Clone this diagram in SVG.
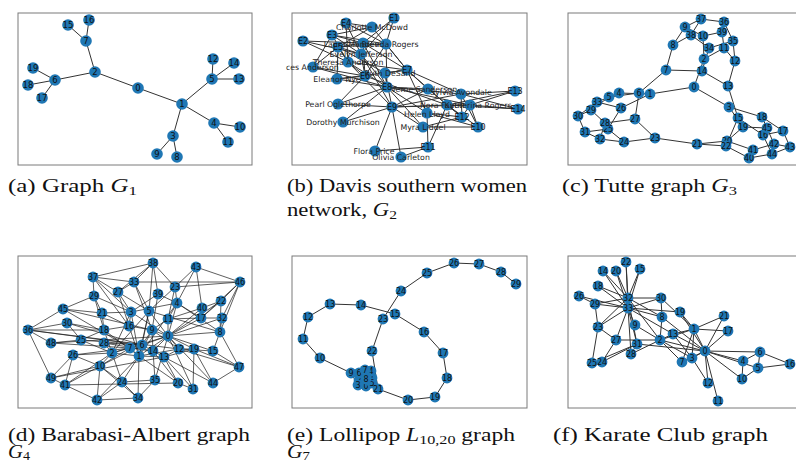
<svg xmlns="http://www.w3.org/2000/svg" width="796" height="464" viewBox="0 0 796 464">
<style>
.fr{fill:none;stroke:#7a7a7a;stroke-width:1}
.e{fill:none;stroke:#333;stroke-width:1}
.ed{fill:none;stroke:#1a1a1a;stroke-width:0.7}
.n circle{fill:#1f77b4}
.n text{font-family:"DejaVu Sans",sans-serif;font-size:8px;fill:#111;text-anchor:middle;dominant-baseline:central}
#graph-a .n text{font-size:8.5px}
.w text{font-size:7.8px;fill:#222}
.cap{font-family:"Liberation Serif",serif;font-size:19px;fill:#111}
.sub{font-size:13px}
.it{font-style:italic}
</style>
<rect width="796" height="464" fill="#fff"/>
<g id="frames">
<rect class="fr" x="18" y="13" width="234" height="152"/>
<rect class="fr" x="292" y="13" width="235" height="152"/>
<rect class="fr" x="568" y="13" width="240" height="152"/>
<rect class="fr" x="18" y="256" width="234" height="152"/>
<rect class="fr" x="292" y="256" width="235" height="152"/>
<rect class="fr" x="568" y="256" width="240" height="152"/>
</g>
<g id="connectors">
<path id="edges-a" class="e" d="M138 88L182 104M138 88L95 72M95 72L86 41M86 41L68 25M86 41L89 20M95 72L55 80M55 80L33 68M55 80L28 85M55 80L42 98M182 104L212 79M212 79L213 59M212 79L234 63M212 79L239 79M182 104L214 123M214 123L240 127M214 123L228 142M182 104L173 136M173 136L157 154M173 136L177 157"/>
<path id="edges-b" class="e" d="M361 54L394 18M361 54L303 41M361 54L332 35M361 54L346 23M361 54L338 47M361 54L365 76M361 54L387 87M361 54L392 107M363 43L394 18M363 43L303 41M363 43L332 35M363 43L338 47M363 43L365 76M363 43L407 70M363 43L387 87M348 62L303 41M348 62L332 35M348 62L346 23M348 62L338 47M348 62L365 76M348 62L407 70M348 62L387 87M348 62L392 107M386 44L394 18M386 44L332 35M386 44L346 23M386 44L338 47M386 44L365 76M386 44L407 70M386 44L387 87M372 27L332 35M372 27L346 23M372 27L338 47M372 27L407 70M313 67L332 35M313 67L338 47M313 67L365 76M313 67L387 87M337 79L338 47M337 79L365 76M337 79L407 70M337 79L387 87M338 104L365 76M338 104L387 87M338 104L392 107M385 73L338 47M385 73L407 70M385 73L387 87M385 73L392 107M428 89L407 70M428 89L387 87M428 89L392 107M428 89L462 117M423 127L387 87M423 127L392 107M423 127L478 127M423 127L462 117M470 105L387 87M470 105L392 107M470 105L478 127M470 105L462 117M470 105L515 91M470 105L518 109M461 94L407 70M461 94L387 87M461 94L392 107M461 94L478 127M461 94L462 117M461 94L515 91M461 94L518 109M447 105L365 76M447 105L407 70M447 105L392 107M447 105L478 127M447 105L428 147M447 105L462 117M447 105L515 91M447 105L518 109M427 113L407 70M427 113L387 87M427 113L478 127M427 113L428 147M427 113L462 117M343 122L387 87M343 122L392 107M401 157L392 107M401 157L428 147M375 151L392 107M375 151L428 147"/>
<path id="edges-c" class="e" d="M694 87L650 94M694 87L704 59M694 87L729 107M650 94L619 93M650 94L621 108M704 59L703 36M704 59L724 48M729 107L762 117M729 107L743 127M619 93L609 97M619 93L597 102M609 97L639 93M609 97L591 110M639 93L666 70M639 93L635 119M666 70L673 45M666 70L702 71M673 45L685 27M673 45L691 35M685 27L703 36M685 27L701 19M703 36L722 32M724 48L735 61M724 48L722 32M735 61L728 86M735 61L733 41M728 86L702 71M728 86L738 118M702 71L709 48M738 118L763 135M738 118L726 146M763 135L783 131M763 135L772 154M783 131L762 117M783 131L790 147M762 117L767 128M743 127L727 141M743 127L767 128M727 141L697 144M727 141L753 150M697 144L726 146M697 144L655 138M726 146L749 158M655 138L624 142M655 138L635 119M624 142L608 129M624 142L600 139M608 129L621 108M608 129L585 132M621 108L597 102M635 119L605 123M605 123L591 110M605 123L600 139M591 110L578 116M578 116L585 132M578 116L597 102M585 132L600 139M709 48L733 41M709 48L691 35M733 41L724 22M724 22L701 19M724 22L722 32M701 19L691 35M749 158L753 150M749 158L772 154M753 150L774 144M774 144L790 147M774 144L767 128M790 147L772 154"/>
<path id="edges-d" class="ed" d="M168 336L139 356M168 336L112 353M139 356L112 353M131 312L168 336M131 312L139 356M131 312L112 353M177 303L168 336M177 303L139 356M177 303L131 312M149 311L168 336M149 311L139 356M149 311L112 353M142 345L168 336M142 345L139 356M142 345L149 311M130 348L139 356M130 348L112 353M130 348L142 345M220 332L168 336M220 332L177 303M220 332L149 311M152 330L168 336M152 330L139 356M152 330L142 345M100 366L112 353M100 366L142 345M100 366L130 348M168 319L168 336M168 319L177 303M168 319L152 330M179 349L168 336M179 349L139 356M179 349L152 330M164 357L139 356M164 357L142 345M164 357L179 349M153 351L168 336M153 351L130 348M153 351L152 330M213 351L168 336M213 351L220 332M213 351L179 349M129 326L139 356M129 326L131 312M129 326L152 330M201 318L168 336M201 318L177 303M201 318L168 319M104 330L139 356M104 330L112 353M104 330L129 326M194 349L168 336M194 349L179 349M194 349L164 357M178 383L139 356M178 383L164 357M178 383L153 351M102 313L131 312M102 313L129 326M102 313L104 330M221 301L168 336M221 301L220 332M221 301L201 318M175 287L177 303M175 287L149 311M175 287L168 319M122 382L139 356M122 382L112 353M122 382L100 366M81 340L112 353M81 340L142 345M81 340L104 330M73 355L112 353M73 355L130 348M73 355L100 366M118 292L131 312M118 292L149 311M118 292L129 326M104 343L112 353M104 343L142 345M104 343L153 351M94 296L131 312M94 296L104 330M94 296L102 313M67 323L142 345M67 323L104 330M67 323L81 340M193 389L168 336M193 389L164 357M193 389L194 349M222 318L168 336M222 318L220 332M222 318L201 318M134 282L149 311M134 282L152 330M134 282L118 292M138 398L139 356M138 398L100 366M138 398L122 382M155 380L168 336M155 380L153 351M155 380L122 382M28 330L142 345M28 330L104 330M28 330L67 323M93 277L131 312M93 277L129 326M93 277L94 296M153 263L149 311M153 263L175 287M153 263L134 282M158 294L131 312M158 294L177 303M158 294L152 330M202 308L168 336M202 308L168 319M202 308L201 318M65 385L112 353M65 385L100 366M65 385L73 355M97 400L100 366M97 400L122 382M97 400L138 398M196 267L177 303M196 267L175 287M196 267L202 308M213 383L168 336M213 383L164 357M213 383L194 349M63 309L130 348M63 309L102 313M63 309L94 296M240 282L221 301M240 282L175 287M240 282L222 318M239 367L220 332M239 367L213 351M239 367L194 349M51 343L130 348M51 343L81 340M51 343L28 330M51 378L100 366M51 378L73 355M51 378L65 385M28 330L63 309M28 330L51 378M153 263L158 294M196 267L240 282M134 282L93 277M193 389L178 383M239 367L213 383M97 400L65 385M28 330L179 349M63 309L152 330M51 343L168 336M51 378L164 357M97 400L139 356M65 385L178 383M138 398L155 380M240 282L220 332M239 367L179 349M221 301L202 308M240 282L201 318M153 263L118 292M93 277L118 292M134 282L240 282M93 277L153 263"/>
<path id="edges-e" class="e" d="M366 386L372 378M366 386L359 380M366 386L358 385M366 386L371 371M366 386L372 383M366 386L359 373M366 386L365 370M366 386L366 379M366 386L351 373M372 378L359 380M372 378L358 385M372 378L371 371M372 378L372 383M372 378L359 373M372 378L365 370M372 378L366 379M372 378L351 373M359 380L358 385M359 380L371 371M359 380L372 383M359 380L359 373M359 380L365 370M359 380L366 379M359 380L351 373M358 385L371 371M358 385L372 383M358 385L359 373M358 385L365 370M358 385L366 379M358 385L351 373M371 371L372 383M371 371L359 373M371 371L365 370M371 371L366 379M371 371L351 373M372 383L359 373M372 383L365 370M372 383L366 379M372 383L351 373M359 373L365 370M359 373L366 379M359 373L351 373M365 370L366 379M365 370L351 373M366 379L351 373M351 373L320 358L303 339L308 317L330 304L361 305L395 314L424 332L443 353L447 378L435 397L408 400L378 389L372 351L383 319L401 291L427 273L454 263L479 264L501 272L516 284"/>
<path id="edges-f" class="e" d="M705 351L694 329M705 351L660 340M705 351L692 358M705 351L743 361M705 351L758 368M705 351L760 352M705 351L682 362M705 351L662 317M705 351L742 379M705 351L718 401M705 351L708 383M705 351L673 334M705 351L728 331M705 351L680 312M705 351L724 316M705 351L637 344M694 329L660 340M694 329L692 358M694 329L682 362M694 329L673 334M694 329L728 331M694 329L680 312M694 329L724 316M694 329L661 298M660 340L692 358M660 340L682 362M660 340L662 317M660 340L635 325M660 340L673 334M660 340L616 340M660 340L631 354M660 340L628 298M692 358L682 362M692 358L708 383M692 358L673 334M743 361L760 352M743 361L742 379M758 368L760 352M758 368L742 379M758 368L790 364M760 352L790 364M662 317L661 298M662 317L628 298M662 317L628 308M635 325L628 308M673 334L628 308M603 271L628 298M603 271L628 308M640 269L628 298M640 269L628 308M598 286L628 298M598 286L628 308M680 312L628 308M616 271L628 298M616 271L628 308M626 262L628 298M626 262L628 308M598 327L592 363M598 327L616 340M598 327L595 304M598 327L628 298M598 327L628 308M602 362L592 363M602 362L616 340M602 362L637 344M592 363L637 344M579 296L595 304M579 296L628 308M616 340L628 308M631 354L637 344M631 354L628 308M595 304L628 298M595 304L628 308M661 298L628 298M661 298L628 308M637 344L628 298M637 344L628 308M628 298L628 308"/>
</g>
<g id="graph-a">
<g id="a0" class="n"><circle cx="138" cy="88" r="5.8"/><text x="138" y="88">0</text></g>
<g id="a1" class="n"><circle cx="182" cy="104" r="5.8"/><text x="182" y="104">1</text></g>
<g id="a2" class="n"><circle cx="95" cy="72" r="5.8"/><text x="95" y="72">2</text></g>
<g id="a3" class="n"><circle cx="173" cy="136" r="5.8"/><text x="173" y="136">3</text></g>
<g id="a4" class="n"><circle cx="214" cy="123" r="5.8"/><text x="214" y="123">4</text></g>
<g id="a5" class="n"><circle cx="212" cy="79" r="5.8"/><text x="212" y="79">5</text></g>
<g id="a6" class="n"><circle cx="55" cy="80" r="5.8"/><text x="55" y="80">6</text></g>
<g id="a7" class="n"><circle cx="86" cy="41" r="5.8"/><text x="86" y="41">7</text></g>
<g id="a8" class="n"><circle cx="177" cy="157" r="5.8"/><text x="177" y="157">8</text></g>
<g id="a9" class="n"><circle cx="157" cy="154" r="5.8"/><text x="157" y="154">9</text></g>
<g id="a10" class="n"><circle cx="240" cy="127" r="5.8"/><text x="240" y="127">10</text></g>
<g id="a11" class="n"><circle cx="228" cy="142" r="5.8"/><text x="228" y="142">11</text></g>
<g id="a12" class="n"><circle cx="213" cy="59" r="5.8"/><text x="213" y="59">12</text></g>
<g id="a13" class="n"><circle cx="239" cy="79" r="5.8"/><text x="239" y="79">13</text></g>
<g id="a14" class="n"><circle cx="234" cy="63" r="5.8"/><text x="234" y="63">14</text></g>
<g id="a15" class="n"><circle cx="68" cy="25" r="5.8"/><text x="68" y="25">15</text></g>
<g id="a16" class="n"><circle cx="89" cy="20" r="5.8"/><text x="89" y="20">16</text></g>
<g id="a17" class="n"><circle cx="42" cy="98" r="5.8"/><text x="42" y="98">17</text></g>
<g id="a18" class="n"><circle cx="28" cy="85" r="5.8"/><text x="28" y="85">18</text></g>
<g id="a19" class="n"><circle cx="33" cy="68" r="5.8"/><text x="33" y="68">19</text></g>
</g>
<g id="graph-b">
<g id="bE1" class="n"><circle cx="394" cy="18" r="5.6"/><text x="394" y="18">E1</text></g>
<g id="bE2" class="n"><circle cx="303" cy="41" r="5.6"/><text x="303" y="41">E2</text></g>
<g id="bE3" class="n"><circle cx="332" cy="35" r="5.6"/><text x="332" y="35">E3</text></g>
<g id="bE4" class="n"><circle cx="346" cy="23" r="5.6"/><text x="346" y="23">E4</text></g>
<g id="bE5" class="n"><circle cx="338" cy="47" r="5.6"/><text x="338" y="47">E5</text></g>
<g id="bE6" class="n"><circle cx="365" cy="76" r="5.6"/><text x="365" y="76">E6</text></g>
<g id="bE7" class="n"><circle cx="407" cy="70" r="5.6"/><text x="407" y="70">E7</text></g>
<g id="bE8" class="n"><circle cx="387" cy="87" r="5.6"/><text x="387" y="87">E8</text></g>
<g id="bE9" class="n"><circle cx="392" cy="107" r="5.6"/><text x="392" y="107">E9</text></g>
<g id="bE10" class="n"><circle cx="478" cy="127" r="5.6"/><text x="478" y="127">E10</text></g>
<g id="bE11" class="n"><circle cx="428" cy="147" r="5.6"/><text x="428" y="147">E11</text></g>
<g id="bE12" class="n"><circle cx="462" cy="117" r="5.6"/><text x="462" y="117">E12</text></g>
<g id="bE13" class="n"><circle cx="515" cy="91" r="5.6"/><text x="515" y="91">E13</text></g>
<g id="bE14" class="n"><circle cx="518" cy="109" r="5.6"/><text x="518" y="109">E14</text></g>
<g id="b-charlotte" class="n w"><circle cx="372" cy="27" r="5.6"/><text x="372" y="27">Charlotte McDowd</text></g>
<g id="b-frances" class="n w"><circle cx="313" cy="67" r="5.6"/><text x="286" y="67" style="text-anchor:start">ces Anderson</text></g>
<g id="b-theresa" class="n w"><circle cx="348" cy="62" r="5.6"/><text x="348" y="62">Theresa Anderson</text></g>
<g id="b-evelyn" class="n w"><circle cx="361" cy="54" r="5.6"/><text x="361" y="54">Evelyn Jefferson</text></g>
<g id="b-laura" class="n w"><circle cx="363" cy="43" r="5.6"/><text x="357" y="44">Laura Mandeville</text></g>
<g id="b-brenda" class="n w"><circle cx="386" cy="44" r="5.6"/><text x="390" y="44">Brenda Rogers</text></g>
<g id="b-eleanor" class="n w"><circle cx="337" cy="79" r="5.6"/><text x="337" y="79">Eleanor Nye</text></g>
<g id="b-ruth" class="n w"><circle cx="385" cy="73" r="5.6"/><text x="390" y="73">Ruth DeSand</text></g>
<g id="b-pearl" class="n w"><circle cx="338" cy="104" r="5.6"/><text x="338" y="104">Pearl Oglethorpe</text></g>
<g id="b-dorothy" class="n w"><circle cx="343" cy="122" r="5.6"/><text x="343" y="122">Dorothy Murchison</text></g>
<g id="b-verne" class="n w"><circle cx="428" cy="89" r="5.6"/><text x="424" y="89">Verne Sanderson</text></g>
<g id="b-sylvia" class="n w"><circle cx="461" cy="94" r="5.6"/><text x="461" y="92">Sylvia Avondale</text></g>
<g id="b-nora" class="n w"><circle cx="447" cy="105" r="5.6"/><text x="445" y="105">Nora Fayette</text></g>
<g id="b-katherina" class="n w"><circle cx="470" cy="105" r="5.6"/><text x="478" y="105">Katherina Rogers</text></g>
<g id="b-helen" class="n w"><circle cx="427" cy="113" r="5.6"/><text x="427" y="114">Helen Lloyd</text></g>
<g id="b-myra" class="n w"><circle cx="423" cy="127" r="5.6"/><text x="423" y="127">Myra Liddel</text></g>
<g id="b-flora" class="n w"><circle cx="375" cy="151" r="5.6"/><text x="374" y="151">Flora Price</text></g>
<g id="b-olivia" class="n w"><circle cx="401" cy="157" r="5.6"/><text x="401" y="157">Olivia Carleton</text></g>
</g>
<g id="graph-c">
<g id="c0" class="n"><circle cx="694" cy="87" r="5.4"/><text x="694" y="87">0</text></g>
<g id="c1" class="n"><circle cx="650" cy="94" r="5.4"/><text x="650" y="94">1</text></g>
<g id="c2" class="n"><circle cx="704" cy="59" r="5.4"/><text x="704" y="59">2</text></g>
<g id="c3" class="n"><circle cx="729" cy="107" r="5.4"/><text x="729" y="107">3</text></g>
<g id="c4" class="n"><circle cx="619" cy="93" r="5.4"/><text x="619" y="93">4</text></g>
<g id="c5" class="n"><circle cx="609" cy="97" r="5.4"/><text x="609" y="97">5</text></g>
<g id="c6" class="n"><circle cx="639" cy="93" r="5.4"/><text x="639" y="93">6</text></g>
<g id="c7" class="n"><circle cx="666" cy="70" r="5.4"/><text x="666" y="70">7</text></g>
<g id="c8" class="n"><circle cx="673" cy="45" r="5.4"/><text x="673" y="45">8</text></g>
<g id="c9" class="n"><circle cx="685" cy="27" r="5.4"/><text x="685" y="27">9</text></g>
<g id="c10" class="n"><circle cx="703" cy="36" r="5.4"/><text x="703" y="36">10</text></g>
<g id="c11" class="n"><circle cx="724" cy="48" r="5.4"/><text x="724" y="48">11</text></g>
<g id="c12" class="n"><circle cx="735" cy="61" r="5.4"/><text x="735" y="61">12</text></g>
<g id="c13" class="n"><circle cx="728" cy="86" r="5.4"/><text x="728" y="86">13</text></g>
<g id="c14" class="n"><circle cx="702" cy="71" r="5.4"/><text x="702" y="71">14</text></g>
<g id="c15" class="n"><circle cx="738" cy="118" r="5.4"/><text x="738" y="118">15</text></g>
<g id="c16" class="n"><circle cx="763" cy="135" r="5.4"/><text x="763" y="135">16</text></g>
<g id="c17" class="n"><circle cx="783" cy="131" r="5.4"/><text x="783" y="131">17</text></g>
<g id="c18" class="n"><circle cx="762" cy="117" r="5.4"/><text x="762" y="117">18</text></g>
<g id="c19" class="n"><circle cx="743" cy="127" r="5.4"/><text x="743" y="127">19</text></g>
<g id="c20" class="n"><circle cx="727" cy="141" r="5.4"/><text x="727" y="141">20</text></g>
<g id="c21" class="n"><circle cx="697" cy="144" r="5.4"/><text x="697" y="144">21</text></g>
<g id="c22" class="n"><circle cx="726" cy="146" r="5.4"/><text x="726" y="146">22</text></g>
<g id="c23" class="n"><circle cx="655" cy="138" r="5.4"/><text x="655" y="138">23</text></g>
<g id="c24" class="n"><circle cx="624" cy="142" r="5.4"/><text x="624" y="142">24</text></g>
<g id="c25" class="n"><circle cx="608" cy="129" r="5.4"/><text x="608" y="129">25</text></g>
<g id="c26" class="n"><circle cx="621" cy="108" r="5.4"/><text x="621" y="108">26</text></g>
<g id="c27" class="n"><circle cx="635" cy="119" r="5.4"/><text x="635" y="119">27</text></g>
<g id="c28" class="n"><circle cx="605" cy="123" r="5.4"/><text x="605" y="123">28</text></g>
<g id="c29" class="n"><circle cx="591" cy="110" r="5.4"/><text x="591" y="110">29</text></g>
<g id="c30" class="n"><circle cx="578" cy="116" r="5.4"/><text x="578" y="116">30</text></g>
<g id="c31" class="n"><circle cx="585" cy="132" r="5.4"/><text x="585" y="132">31</text></g>
<g id="c32" class="n"><circle cx="600" cy="139" r="5.4"/><text x="600" y="139">32</text></g>
<g id="c33" class="n"><circle cx="597" cy="102" r="5.4"/><text x="597" y="102">33</text></g>
<g id="c34" class="n"><circle cx="709" cy="48" r="5.4"/><text x="709" y="48">34</text></g>
<g id="c35" class="n"><circle cx="733" cy="41" r="5.4"/><text x="733" y="41">35</text></g>
<g id="c36" class="n"><circle cx="724" cy="22" r="5.4"/><text x="724" y="22">36</text></g>
<g id="c37" class="n"><circle cx="701" cy="19" r="5.4"/><text x="701" y="19">37</text></g>
<g id="c38" class="n"><circle cx="691" cy="35" r="5.4"/><text x="691" y="35">38</text></g>
<g id="c39" class="n"><circle cx="722" cy="32" r="5.4"/><text x="722" y="32">39</text></g>
<g id="c40" class="n"><circle cx="749" cy="158" r="5.4"/><text x="749" y="158">40</text></g>
<g id="c41" class="n"><circle cx="753" cy="150" r="5.4"/><text x="753" y="150">41</text></g>
<g id="c42" class="n"><circle cx="774" cy="144" r="5.4"/><text x="774" y="144">42</text></g>
<g id="c43" class="n"><circle cx="790" cy="147" r="5.4"/><text x="790" y="147">43</text></g>
<g id="c44" class="n"><circle cx="772" cy="154" r="5.4"/><text x="772" y="154">44</text></g>
<g id="c45" class="n"><circle cx="767" cy="128" r="5.4"/><text x="767" y="128">45</text></g>
</g>
<g id="graph-d">
<g id="d0" class="n"><circle cx="168" cy="336" r="5.4"/><text x="168" y="336">0</text></g>
<g id="d1" class="n"><circle cx="139" cy="356" r="5.4"/><text x="139" y="356">1</text></g>
<g id="d2" class="n"><circle cx="112" cy="353" r="5.4"/><text x="112" y="353">2</text></g>
<g id="d3" class="n"><circle cx="131" cy="312" r="5.4"/><text x="131" y="312">3</text></g>
<g id="d4" class="n"><circle cx="177" cy="303" r="5.4"/><text x="177" y="303">4</text></g>
<g id="d5" class="n"><circle cx="149" cy="311" r="5.4"/><text x="149" y="311">5</text></g>
<g id="d6" class="n"><circle cx="142" cy="345" r="5.4"/><text x="142" y="345">6</text></g>
<g id="d7" class="n"><circle cx="130" cy="348" r="5.4"/><text x="130" y="348">7</text></g>
<g id="d8" class="n"><circle cx="220" cy="332" r="5.4"/><text x="220" y="332">8</text></g>
<g id="d9" class="n"><circle cx="152" cy="330" r="5.4"/><text x="152" y="330">9</text></g>
<g id="d10" class="n"><circle cx="100" cy="366" r="5.4"/><text x="100" y="366">10</text></g>
<g id="d11" class="n"><circle cx="168" cy="319" r="5.4"/><text x="168" y="319">11</text></g>
<g id="d12" class="n"><circle cx="179" cy="349" r="5.4"/><text x="179" y="349">12</text></g>
<g id="d13" class="n"><circle cx="164" cy="357" r="5.4"/><text x="164" y="357">13</text></g>
<g id="d14" class="n"><circle cx="153" cy="351" r="5.4"/><text x="153" y="351">14</text></g>
<g id="d15" class="n"><circle cx="213" cy="351" r="5.4"/><text x="213" y="351">15</text></g>
<g id="d16" class="n"><circle cx="129" cy="326" r="5.4"/><text x="129" y="326">16</text></g>
<g id="d17" class="n"><circle cx="201" cy="318" r="5.4"/><text x="201" y="318">17</text></g>
<g id="d18" class="n"><circle cx="104" cy="330" r="5.4"/><text x="104" y="330">18</text></g>
<g id="d19" class="n"><circle cx="194" cy="349" r="5.4"/><text x="194" y="349">19</text></g>
<g id="d20" class="n"><circle cx="178" cy="383" r="5.4"/><text x="178" y="383">20</text></g>
<g id="d21" class="n"><circle cx="102" cy="313" r="5.4"/><text x="102" y="313">21</text></g>
<g id="d22" class="n"><circle cx="221" cy="301" r="5.4"/><text x="221" y="301">22</text></g>
<g id="d23" class="n"><circle cx="175" cy="287" r="5.4"/><text x="175" y="287">23</text></g>
<g id="d24" class="n"><circle cx="122" cy="382" r="5.4"/><text x="122" y="382">24</text></g>
<g id="d25" class="n"><circle cx="81" cy="340" r="5.4"/><text x="81" y="340">25</text></g>
<g id="d26" class="n"><circle cx="73" cy="355" r="5.4"/><text x="73" y="355">26</text></g>
<g id="d27" class="n"><circle cx="118" cy="292" r="5.4"/><text x="118" y="292">27</text></g>
<g id="d28" class="n"><circle cx="104" cy="343" r="5.4"/><text x="104" y="343">28</text></g>
<g id="d29" class="n"><circle cx="94" cy="296" r="5.4"/><text x="94" y="296">29</text></g>
<g id="d30" class="n"><circle cx="67" cy="323" r="5.4"/><text x="67" y="323">30</text></g>
<g id="d31" class="n"><circle cx="193" cy="389" r="5.4"/><text x="193" y="389">31</text></g>
<g id="d32" class="n"><circle cx="222" cy="318" r="5.4"/><text x="222" y="318">32</text></g>
<g id="d33" class="n"><circle cx="134" cy="282" r="5.4"/><text x="134" y="282">33</text></g>
<g id="d34" class="n"><circle cx="138" cy="398" r="5.4"/><text x="138" y="398">34</text></g>
<g id="d35" class="n"><circle cx="155" cy="380" r="5.4"/><text x="155" y="380">35</text></g>
<g id="d36" class="n"><circle cx="28" cy="330" r="5.4"/><text x="28" y="330">36</text></g>
<g id="d37" class="n"><circle cx="93" cy="277" r="5.4"/><text x="93" y="277">37</text></g>
<g id="d38" class="n"><circle cx="153" cy="263" r="5.4"/><text x="153" y="263">38</text></g>
<g id="d39" class="n"><circle cx="158" cy="294" r="5.4"/><text x="158" y="294">39</text></g>
<g id="d40" class="n"><circle cx="202" cy="308" r="5.4"/><text x="202" y="308">40</text></g>
<g id="d41" class="n"><circle cx="65" cy="385" r="5.4"/><text x="65" y="385">41</text></g>
<g id="d42" class="n"><circle cx="97" cy="400" r="5.4"/><text x="97" y="400">42</text></g>
<g id="d43" class="n"><circle cx="196" cy="267" r="5.4"/><text x="196" y="267">43</text></g>
<g id="d44" class="n"><circle cx="213" cy="383" r="5.4"/><text x="213" y="383">44</text></g>
<g id="d45" class="n"><circle cx="63" cy="309" r="5.4"/><text x="63" y="309">45</text></g>
<g id="d46" class="n"><circle cx="240" cy="282" r="5.4"/><text x="240" y="282">46</text></g>
<g id="d47" class="n"><circle cx="239" cy="367" r="5.4"/><text x="239" y="367">47</text></g>
<g id="d48" class="n"><circle cx="51" cy="343" r="5.4"/><text x="51" y="343">48</text></g>
<g id="d49" class="n"><circle cx="51" cy="378" r="5.4"/><text x="51" y="378">49</text></g>
</g>
<g id="graph-e">
<g id="e0" class="n"><circle cx="366" cy="386" r="5.4"/><text x="366" y="386">0</text></g>
<g id="e1" class="n"><circle cx="372" cy="378" r="5.4"/><text x="372" y="378">1</text></g>
<g id="e2" class="n"><circle cx="359" cy="380" r="5.4"/><text x="359" y="380">2</text></g>
<g id="e3" class="n"><circle cx="358" cy="385" r="5.4"/><text x="358" y="385">3</text></g>
<g id="e4" class="n"><circle cx="371" cy="371" r="5.4"/><text x="371" y="371">4</text></g>
<g id="e5" class="n"><circle cx="372" cy="383" r="5.4"/><text x="372" y="383">5</text></g>
<g id="e6" class="n"><circle cx="359" cy="373" r="5.4"/><text x="359" y="373">6</text></g>
<g id="e7" class="n"><circle cx="365" cy="370" r="5.4"/><text x="365" y="370">7</text></g>
<g id="e8" class="n"><circle cx="366" cy="379" r="5.4"/><text x="366" y="379">8</text></g>
<g id="e9" class="n"><circle cx="351" cy="373" r="5.4"/><text x="351" y="373">9</text></g>
<g id="e10" class="n"><circle cx="320" cy="358" r="5.4"/><text x="320" y="358">10</text></g>
<g id="e11" class="n"><circle cx="303" cy="339" r="5.4"/><text x="303" y="339">11</text></g>
<g id="e12" class="n"><circle cx="308" cy="317" r="5.4"/><text x="308" y="317">12</text></g>
<g id="e13" class="n"><circle cx="330" cy="304" r="5.4"/><text x="330" y="304">13</text></g>
<g id="e14" class="n"><circle cx="361" cy="305" r="5.4"/><text x="361" y="305">14</text></g>
<g id="e15" class="n"><circle cx="395" cy="314" r="5.4"/><text x="395" y="314">15</text></g>
<g id="e16" class="n"><circle cx="424" cy="332" r="5.4"/><text x="424" y="332">16</text></g>
<g id="e17" class="n"><circle cx="443" cy="353" r="5.4"/><text x="443" y="353">17</text></g>
<g id="e18" class="n"><circle cx="447" cy="378" r="5.4"/><text x="447" y="378">18</text></g>
<g id="e19" class="n"><circle cx="435" cy="397" r="5.4"/><text x="435" y="397">19</text></g>
<g id="e20" class="n"><circle cx="408" cy="400" r="5.4"/><text x="408" y="400">20</text></g>
<g id="e21" class="n"><circle cx="378" cy="389" r="5.4"/><text x="378" y="389">21</text></g>
<g id="e22" class="n"><circle cx="372" cy="351" r="5.4"/><text x="372" y="351">22</text></g>
<g id="e23" class="n"><circle cx="383" cy="319" r="5.4"/><text x="383" y="319">23</text></g>
<g id="e24" class="n"><circle cx="401" cy="291" r="5.4"/><text x="401" y="291">24</text></g>
<g id="e25" class="n"><circle cx="427" cy="273" r="5.4"/><text x="427" y="273">25</text></g>
<g id="e26" class="n"><circle cx="454" cy="263" r="5.4"/><text x="454" y="263">26</text></g>
<g id="e27" class="n"><circle cx="479" cy="264" r="5.4"/><text x="479" y="264">27</text></g>
<g id="e28" class="n"><circle cx="501" cy="272" r="5.4"/><text x="501" y="272">28</text></g>
<g id="e29" class="n"><circle cx="516" cy="284" r="5.4"/><text x="516" y="284">29</text></g>
</g>
<g id="graph-f">
<g id="f0" class="n"><circle cx="705" cy="351" r="5.4"/><text x="705" y="351">0</text></g>
<g id="f1" class="n"><circle cx="694" cy="329" r="5.4"/><text x="694" y="329">1</text></g>
<g id="f2" class="n"><circle cx="660" cy="340" r="5.4"/><text x="660" y="340">2</text></g>
<g id="f3" class="n"><circle cx="692" cy="358" r="5.4"/><text x="692" y="358">3</text></g>
<g id="f4" class="n"><circle cx="743" cy="361" r="5.4"/><text x="743" y="361">4</text></g>
<g id="f5" class="n"><circle cx="758" cy="368" r="5.4"/><text x="758" y="368">5</text></g>
<g id="f6" class="n"><circle cx="760" cy="352" r="5.4"/><text x="760" y="352">6</text></g>
<g id="f7" class="n"><circle cx="682" cy="362" r="5.4"/><text x="682" y="362">7</text></g>
<g id="f8" class="n"><circle cx="662" cy="317" r="5.4"/><text x="662" y="317">8</text></g>
<g id="f9" class="n"><circle cx="635" cy="325" r="5.4"/><text x="635" y="325">9</text></g>
<g id="f10" class="n"><circle cx="742" cy="379" r="5.4"/><text x="742" y="379">10</text></g>
<g id="f11" class="n"><circle cx="718" cy="401" r="5.4"/><text x="718" y="401">11</text></g>
<g id="f12" class="n"><circle cx="708" cy="383" r="5.4"/><text x="708" y="383">12</text></g>
<g id="f13" class="n"><circle cx="673" cy="334" r="5.4"/><text x="673" y="334">13</text></g>
<g id="f14" class="n"><circle cx="603" cy="271" r="5.4"/><text x="603" y="271">14</text></g>
<g id="f15" class="n"><circle cx="640" cy="269" r="5.4"/><text x="640" y="269">15</text></g>
<g id="f16" class="n"><circle cx="790" cy="364" r="5.4"/><text x="790" y="364">16</text></g>
<g id="f17" class="n"><circle cx="728" cy="331" r="5.4"/><text x="728" y="331">17</text></g>
<g id="f18" class="n"><circle cx="598" cy="286" r="5.4"/><text x="598" y="286">18</text></g>
<g id="f19" class="n"><circle cx="680" cy="312" r="5.4"/><text x="680" y="312">19</text></g>
<g id="f20" class="n"><circle cx="616" cy="271" r="5.4"/><text x="616" y="271">20</text></g>
<g id="f21" class="n"><circle cx="724" cy="316" r="5.4"/><text x="724" y="316">21</text></g>
<g id="f22" class="n"><circle cx="626" cy="262" r="5.4"/><text x="626" y="262">22</text></g>
<g id="f23" class="n"><circle cx="598" cy="327" r="5.4"/><text x="598" y="327">23</text></g>
<g id="f24" class="n"><circle cx="602" cy="362" r="5.4"/><text x="602" y="362">24</text></g>
<g id="f25" class="n"><circle cx="592" cy="363" r="5.4"/><text x="592" y="363">25</text></g>
<g id="f26" class="n"><circle cx="579" cy="296" r="5.4"/><text x="579" y="296">26</text></g>
<g id="f27" class="n"><circle cx="616" cy="340" r="5.4"/><text x="616" y="340">27</text></g>
<g id="f28" class="n"><circle cx="631" cy="354" r="5.4"/><text x="631" y="354">28</text></g>
<g id="f29" class="n"><circle cx="595" cy="304" r="5.4"/><text x="595" y="304">29</text></g>
<g id="f30" class="n"><circle cx="661" cy="298" r="5.4"/><text x="661" y="298">30</text></g>
<g id="f31" class="n"><circle cx="637" cy="344" r="5.4"/><text x="637" y="344">31</text></g>
<g id="f32" class="n"><circle cx="628" cy="298" r="5.4"/><text x="628" y="298">32</text></g>
<g id="f33" class="n"><circle cx="628" cy="308" r="5.4"/><text x="628" y="308">33</text></g>
</g>
<g id="captions">
<text class="cap" x="8" y="192" textLength="129" lengthAdjust="spacingAndGlyphs">(a) Graph <tspan class="it">G</tspan><tspan class="sub" dy="3">1</tspan></text>
<text class="cap" x="287" y="192" textLength="240" lengthAdjust="spacingAndGlyphs">(b) Davis southern women</text>
<text class="cap" x="287" y="216" textLength="110" lengthAdjust="spacingAndGlyphs">network, <tspan class="it">G</tspan><tspan class="sub" dy="3">2</tspan></text>
<text class="cap" x="562" y="192" textLength="175" lengthAdjust="spacingAndGlyphs">(c) Tutte graph <tspan class="it">G</tspan><tspan class="sub" dy="3">3</tspan></text>
<text class="cap" x="8" y="441" textLength="242" lengthAdjust="spacingAndGlyphs">(d) Barabasi-Albert graph</text>
<text class="cap" x="8" y="458" textLength="22" lengthAdjust="spacingAndGlyphs"><tspan class="it">G</tspan><tspan class="sub" dy="2">4</tspan></text>
<text class="cap" x="287" y="441" textLength="228" lengthAdjust="spacingAndGlyphs">(e) Lollipop <tspan class="it">L</tspan><tspan class="sub" dy="3">10,20</tspan><tspan dy="-3"> graph</tspan></text>
<text class="cap" x="287" y="458" textLength="23" lengthAdjust="spacingAndGlyphs"><tspan class="it">G</tspan><tspan class="sub" dy="2">7</tspan></text>
<text class="cap" x="553" y="441" textLength="215" lengthAdjust="spacingAndGlyphs">(f) Karate Club graph</text>
</g>
</svg>
